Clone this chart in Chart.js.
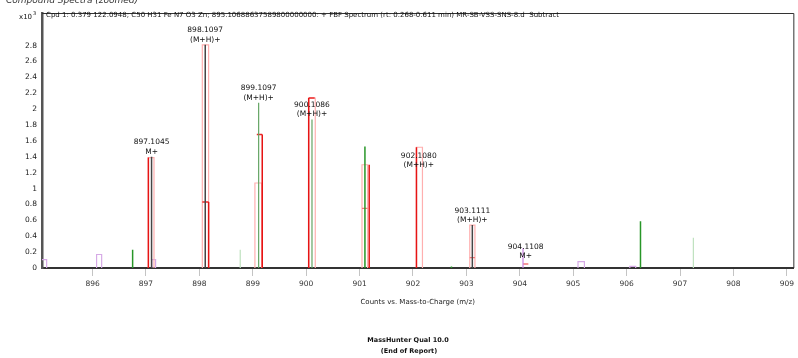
<!DOCTYPE html>
<html>
<head>
<meta charset="utf-8">
<script src="https://cdn.jsdelivr.net/npm/chart.js@4.4.1/dist/chart.umd.min.js"></script>
<style>
  html, body { margin: 0; padding: 0; background: #fff; }
  #wrap { width: 798px; height: 358px; position: relative; overflow: hidden; }
</style>
</head>
<body>
<div id="wrap"><canvas id="spec" width="798" height="358"></canvas></div>
<script>
// axis ticks
const xTicks = [896, 897, 898, 899, 900, 901, 902, 903, 904, 905, 906, 907, 908, 909];
const yTicks = [0, 0.2, 0.4, 0.6, 0.8, 1, 1.2, 1.4, 1.6, 1.8, 2, 2.2, 2.4, 2.6, 2.8];

// measured sticks (x10^3 counts)
const darkMz = [897.1045, 898.1097, 903.1111];
const darkAbund = [1.40, 2.81, 0.54];

const greenMz = [896.75, 901.10, 902.72, 906.26];
const greenAbund = [0.23, 1.53, 0.02, 0.59];
const greenMidMz = [899.1097, 900.1086];
const greenMidAbund = [2.08, 1.87];
const greenPaleMz = [898.765, 907.25];
const greenPaleAbund = [0.23, 0.38];

const violetMz = [904.06];
const violetAbund = [0.25];

// predicted isotope pattern: red edges and caps
const redMz = [897.045, 898.173, 899.177, 900.047, 901.18, 902.065];
const redAbund = [1.39, 0.83, 1.68, 2.14, 1.30, 1.52];

const redCapLo = [898.055, 899.075, 900.047];
const redCapHi = [898.173, 899.177, 900.159];
const redCapH = [0.83, 1.68, 2.14];

const lightCapLo = [901.045, 903.063, 904.06];
const lightCapHi = [901.15, 903.16, 904.16];
const lightCapH = [0.75, 0.13, 0.05];

// isotope boxes: low m/z, high m/z, height
const paleBoxLo = [897.045, 898.055, 899.04, 900.047, 901.045, 902.065, 903.063];
const paleBoxHi = [897.15, 898.173, 899.165, 900.17, 901.15, 902.177, 903.16];
const paleBoxH = [1.39, 2.81, 1.07, 2.14, 1.30, 1.52, 0.54];

const violetBoxLo = [895.03, 896.075, 897.11, 905.09, 906.06];
const violetBoxHi = [895.14, 896.17, 897.18, 905.21, 906.17];
const violetBoxH = [0.105, 0.17, 0.105, 0.08, 0.02];

// peak annotations
const labelMz = [897.1045, 898.1097, 899.1097, 900.1086, 902.1080, 903.1111, 904.1108];
const labelAnchor = [1.40, 2.81, 2.08, 1.87, 1.23, 0.54, 0.085];
const labelIon = ['M+', '(M+H)+', '(M+H)+', '(M+H)+', '(M+H)+', '(M+H)+', 'M+'];

const titleText = 'Cpd 1: 0.379 122.0948; C50 H31 Fe N7 O3 Zn; 895.10688637589800000000: + FBF Spectrum (rt: 0.268-0.611 min) MR-SB-VSS-SNS-8.d  Subtract';

function sticks(mz, ab) {
    const pts = [];
    mz.forEach((m, i) => {
        pts.push({ x: m, y: 0 }, { x: m, y: ab[i] }, { x: m, y: null });
    });
    return pts;
}

function caps(lo, hi, h) {
    const pts = [];
    lo.forEach((l, i) => {
        pts.push({ x: l, y: h[i] }, { x: hi[i], y: h[i] }, { x: hi[i], y: null });
    });
    return pts;
}

function boxes(lo, hi, h) {
    const pts = [];
    lo.forEach((l, i) => {
        pts.push({ x: l, y: 0 }, { x: l, y: h[i] }, { x: hi[i], y: h[i] }, { x: hi[i], y: 0 }, { x: hi[i], y: null });
    });
    return pts;
}

function ds(data, color, width) {
    return {
        data: data,
        borderColor: color,
        borderWidth: width || 1.2,
        pointRadius: 0,
        spanGaps: false,
        tension: 0,
        fill: false
    };
}

const FONT = '"DejaVu Sans", sans-serif';

const decor = {
    id: 'decor',
    beforeDraw(chart) {
        const ctx = chart.ctx;
        ctx.save();
        ctx.fillStyle = '#fff';
        ctx.fillRect(0, 0, chart.width, chart.height);
        ctx.restore();
    },
    afterDraw(chart) {
        const { ctx, chartArea: a, scales: { x, y } } = chart;
        ctx.save();

        // frame top and right
        ctx.strokeStyle = '#333';
        ctx.lineWidth = 1;
        ctx.beginPath();
        ctx.moveTo(a.left, a.top + 0.5);
        ctx.lineTo(a.right + 0.5, a.top + 0.5);
        ctx.lineTo(a.right + 0.5, a.bottom);
        ctx.stroke();

        // spectrum title inside frame
        ctx.fillStyle = '#111';
        ctx.font = '7px ' + FONT;
        ctx.textAlign = 'left';
        ctx.textBaseline = 'middle';
        ctx.fillText(titleText, a.left + 4, 15);

        // x10^3
        ctx.fillText('x10', 19, 17);
        ctx.font = '5px ' + FONT;
        ctx.fillText('3', 33, 14);

        // header, cut off at top
        ctx.font = 'italic 9px ' + FONT;
        ctx.fillStyle = '#333';
        ctx.textBaseline = 'alphabetic';
        ctx.fillText('Compound Spectra (zoomed)', 6, 3);

        // peak labels
        ctx.font = '7.5px ' + FONT;
        ctx.fillStyle = '#111';
        ctx.textAlign = 'center';
        ctx.textBaseline = 'middle';
        labelMz.forEach((m, i) => {
            const px = x.getPixelForValue(m);
            const py = y.getPixelForValue(labelAnchor[i]);
            ctx.fillText(m.toFixed(4), px, py - 14.5);
            ctx.fillText(labelIon[i], px, py - 5);
        });

        // axis title
        ctx.font = '7px ' + FONT;
        ctx.fillStyle = '#222';
        ctx.fillText('Counts vs. Mass-to-Charge (m/z)', (a.left + a.right) / 2, 302);

        // footer
        ctx.font = 'bold 6.5px ' + FONT;
        ctx.fillStyle = '#111';
        ctx.fillText('MassHunter Qual 10.0', 408, 340);
        ctx.fillText('(End of Report)', 409, 351);

        ctx.restore();
    }
};

// first dataset is drawn on top
new Chart(document.getElementById('spec'), {
    type: 'line',
    data: {
        datasets: [
            ds(sticks(darkMz, darkAbund), 'rgb(70,70,70)', 1.5),
            ds(sticks(violetMz, violetAbund), 'rgb(200,130,225)'),
            ds(sticks(greenMz, greenAbund), 'rgb(40,150,40)', 1.5),
            ds(sticks(greenMidMz, greenMidAbund), 'rgb(100,165,100)'),
            ds(sticks(redMz, redAbund), 'rgb(230,20,20)', 1.5),
            ds(caps(redCapLo, redCapHi, redCapH), 'rgb(236,40,40)', 1.4),
            ds(caps(lightCapLo, lightCapHi, lightCapH), 'rgb(242,120,120)', 1.4),
            ds(boxes(paleBoxLo, paleBoxHi, paleBoxH), 'rgb(255,175,175)'),
            ds(sticks(greenPaleMz, greenPaleAbund), 'rgb(190,225,190)'),
            ds(boxes(violetBoxLo, violetBoxHi, violetBoxH), 'rgb(214,170,230)')
        ]
    },
    options: {
        responsive: false,
        animation: false,
        devicePixelRatio: 1,
        layout: { padding: { left: 0, right: 3, top: 13, bottom: 70 } },
        plugins: {
            legend: { display: false },
            tooltip: { enabled: false }
        },
        scales: {
            x: {
                type: 'linear',
                min: 895.053,
                max: 909.122,
                afterBuildTicks: axis => { axis.ticks = xTicks.map(v => ({ value: v })); },
                afterFit: axis => { axis.height = 20; },
                border: { color: '#333', width: 2 },
                grid: { drawOnChartArea: false, drawTicks: true, tickLength: 8, color: '#c4c4c4' },
                ticks: {
                    color: '#333',
                    font: { family: FONT, size: 7.5 },
                    padding: 4,
                    maxRotation: 0,
                    callback: v => String(v)
                }
            },
            y: {
                min: 0,
                max: 3.21,
                afterBuildTicks: axis => { axis.ticks = yTicks.map(v => ({ value: v })); },
                afterFit: axis => { axis.width = 42; },
                border: { color: '#555', width: 2.5 },
                grid: { display: false, drawTicks: false },
                ticks: {
                    color: '#222',
                    font: { family: FONT, size: 7.5 },
                    padding: 5,
                    callback: v => String(+v.toFixed(1))
                }
            }
        }
    },
    plugins: [decor]
});
</script>
</body>
</html>
